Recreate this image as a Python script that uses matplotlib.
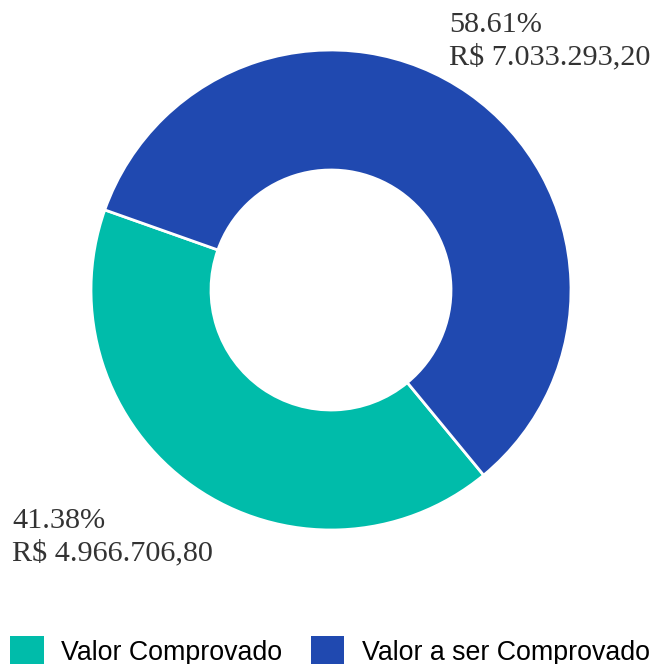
import matplotlib.pyplot as plt
from matplotlib.patches import Patch

names = ['Valor Comprovado', 'Valor a ser Comprovado']
values = [4966706.80, 7033293.20]
pct_labels = ['41.38%', '58.61%']
money_labels = ['R$ 4.966.706,80', 'R$ 7.033.293,20']
colors = ['#00BCAA', '#2049B0']

fig = plt.figure(figsize=(6.52, 6.64), dpi=100)
ax = fig.add_axes([0, 0, 1, 1])
ax.set_xlim(0, 652)
ax.set_ylim(0, 664)
ax.set_aspect('equal')
ax.axis('off')

ax.pie(values, colors=colors, startangle=160.5, counterclock=True,
       radius=240, center=(331, 374),
       wedgeprops=dict(width=120, edgecolor='white', linewidth=2))
ax.set_xlim(0, 652)
ax.set_ylim(0, 664)

serif = ['Liberation Serif', 'DejaVu Serif']
ax.text(449, 664 - 12, pct_labels[1] + '\n' + money_labels[1], family=serif,
        fontsize=21.8, color='#333333', ha='left', va='top', linespacing=1.3)
ax.text(12, 664 - 508, pct_labels[0] + '\n' + money_labels[0], family=serif,
        fontsize=21.8, color='#333333', ha='left', va='top', linespacing=1.3)

handles = [Patch(facecolor=c, edgecolor='none') for c in colors]
fig.legend(handles, names, loc='center', bbox_to_anchor=(330 / 652, 13 / 664),
           ncol=2, frameon=False, borderpad=0, handlelength=1.25, handleheight=1.25,
           handletextpad=0.65, columnspacing=1.05,
           prop={'family': ['Liberation Sans', 'DejaVu Sans'], 'size': 19.3})

fig.savefig('out.png', dpi=100)
